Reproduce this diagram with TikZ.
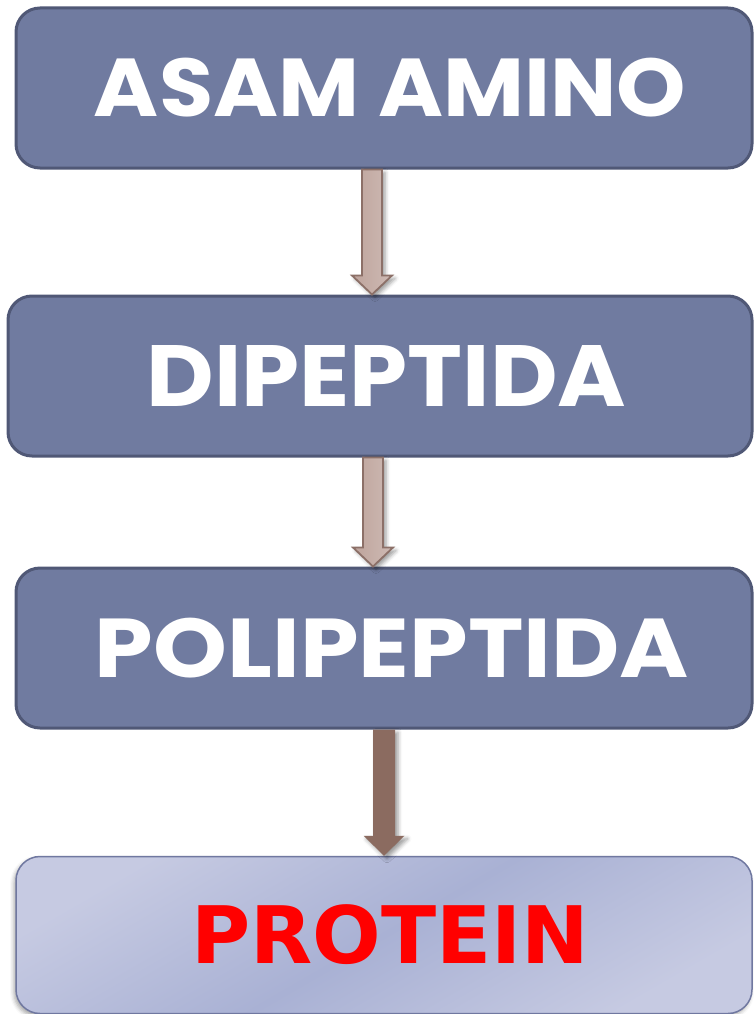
\documentclass[tikz,border=0pt]{standalone}
\usepackage{fontspec}
\usepackage{graphicx}
\setmainfont{Poppins}
\newfontfamily\protfont{DejaVu Sans}
\usetikzlibrary{calc,shadows.blur}

\definecolor{boxfill}{RGB}{112,123,160}
\definecolor{boxline}{RGB}{80,88,118}
\definecolor{arrfillA}{RGB}{190,164,156}
\definecolor{arrfillB}{RGB}{206,186,180}
\definecolor{arrline}{RGB}{140,112,104}
\definecolor{arrdark}{RGB}{139,107,96}
\definecolor{protA}{RGB}{198,202,226}
\definecolor{protB}{RGB}{169,177,212}
\definecolor{protline}{RGB}{112,120,160}
\definecolor{protred}{RGB}{255,0,0}

% shifted, stretched label text: #1 shift, #2 width, #3 height, #4 text
\newcommand\fitlabel[4]{\hspace*{#1}\resizebox*{#2}{#3}{#4}}

\newcommand\blkarrow[6]{%
  \path[#6] let \p1=(#1), \p2=(#2) in
    (\x1-#3pt,\y1) -- (\x1-#3pt,\y2+#5pt) -- (\x1-#4pt,\y2+#5pt) -- (\x1,\y2)
    -- (\x1+#4pt,\y2+#5pt) -- (\x1+#3pt,\y2+#5pt) -- (\x1+#3pt,\y1) -- cycle;}

\begin{document}
\begin{tikzpicture}[x=1pt,y=-1pt,
  stepbox/.style={rectangle, rounded corners=24pt, fill=boxfill, draw=boxline,
    line width=3pt, minimum height=160pt, inner sep=0pt, text=white,
    font=\fontsize{78}{78}\selectfont\bfseries},
  protbox/.style={rectangle, rounded corners=24pt, draw=protline, line width=1.5pt,
    top color=protA, bottom color=protA, middle color=protB, shading angle=30,
    minimum height=157pt, inner sep=0pt, text=protred,
    font=\protfont\fontsize{79}{79}\selectfont\bfseries,
    blur shadow={shadow xshift=-2pt, shadow yshift=-3pt, shadow blur radius=4pt, shadow opacity=35}},
  lightarrow/.style={draw=arrline, line width=1.8pt, left color=arrfillA, right color=arrfillB,
    blur shadow={shadow xshift=3pt, shadow yshift=-3pt, shadow blur radius=4pt, shadow opacity=40}},
  darkarrow/.style={fill=arrdark,
    blur shadow={shadow xshift=3pt, shadow yshift=-3pt, shadow blur radius=4pt, shadow opacity=40}}
]
\useasboundingbox (0,0) rectangle (753,1014);

\node[stepbox, minimum width=736pt] (asam) at (384,88) {\fitlabel{12pt}{592pt}{59pt}{ASAM AMINO}};
\node[stepbox, minimum width=744pt] (dipep) at (380,376) {\fitlabel{13pt}{480pt}{61pt}{DIPEPTIDA}};
\node[stepbox, minimum width=736pt] (polip) at (384,648) {\fitlabel{16pt}{594pt}{60pt}{POLIPEPTIDA}};
\node[protbox, minimum width=736pt] (prot) at (384,935) {\fitlabel{12pt}{398pt}{60pt}{PROTEIN}};

\coordinate (a1s) at ($(asam.south)+(-12,0)$);
\coordinate (a1e) at ($(dipep.north)+(-8,0)$);
\coordinate (a2s) at ($(dipep.south)+(-7,0)$);
\coordinate (a2e) at ($(polip.north)+(-11,0)$);
\coordinate (a3s) at ($(polip.south)+(0,0)$);
\coordinate (a3e) at ($(prot.north)+(0,0)$);

\blkarrow{a1s}{a1e}{10}{20}{19}{lightarrow}
\blkarrow{a2s}{a2e}{10}{20}{19}{lightarrow}
\blkarrow{a3s}{a3e}{11}{20.5}{20}{darkarrow}
\end{tikzpicture}
\end{document}
